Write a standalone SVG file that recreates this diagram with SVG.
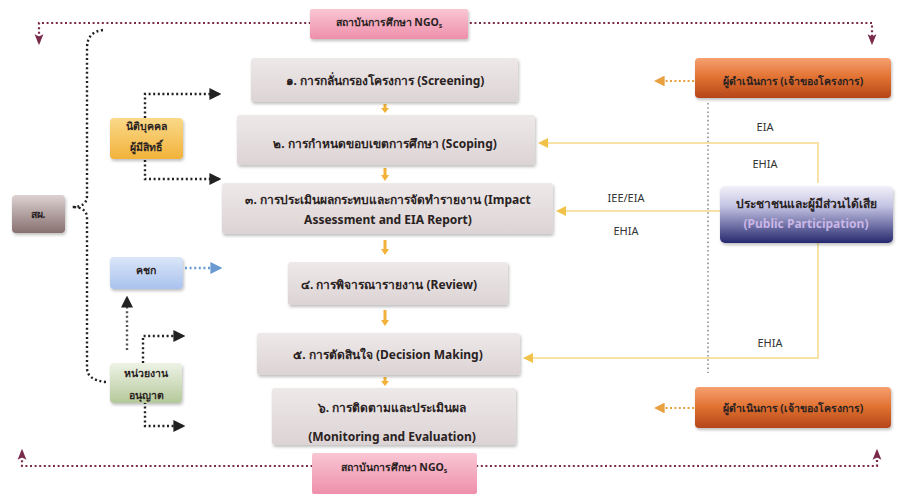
<svg xmlns="http://www.w3.org/2000/svg" width="910" height="494" viewBox="0 0 910 494">
<defs>
<linearGradient id="gGrey" x1="0" y1="0" x2="0" y2="1"><stop offset="0" stop-color="#eee9e9"/><stop offset="1" stop-color="#dcd3d4"/></linearGradient>
<linearGradient id="gPink" x1="0" y1="0" x2="0" y2="1"><stop offset="0" stop-color="#f9c6d4"/><stop offset="1" stop-color="#ee8fab"/></linearGradient>
<linearGradient id="gOrange" x1="0" y1="0" x2="0" y2="1"><stop offset="0" stop-color="#f6a070"/><stop offset="0.5" stop-color="#e0702f"/><stop offset="1" stop-color="#b4461a"/></linearGradient>
<linearGradient id="gYellow" x1="0" y1="0" x2="0" y2="1"><stop offset="0" stop-color="#fad98a"/><stop offset="1" stop-color="#f2b23a"/></linearGradient>
<linearGradient id="gBlueL" x1="0" y1="0" x2="0" y2="1"><stop offset="0" stop-color="#dbe6f8"/><stop offset="1" stop-color="#a9c2ee"/></linearGradient>
<linearGradient id="gGreen" x1="0" y1="0" x2="0" y2="1"><stop offset="0" stop-color="#eef3e6"/><stop offset="1" stop-color="#b4c89a"/></linearGradient>
<linearGradient id="gDark" x1="0" y1="0" x2="0" y2="1"><stop offset="0" stop-color="#ddd2d2"/><stop offset="1" stop-color="#86706f"/></linearGradient>
<linearGradient id="gNavy" x1="0" y1="0" x2="0" y2="1"><stop offset="0" stop-color="#f2f0f8"/><stop offset="0.35" stop-color="#c4c4e4"/><stop offset="1" stop-color="#26286e"/></linearGradient>
<filter id="sh" x="-10%" y="-20%" width="120%" height="150%"><feDropShadow dx="1" dy="2" stdDeviation="1.5" flood-color="#000" flood-opacity="0.25"/></filter>
<marker id="aBlk" viewBox="0 0 10 10" refX="8" refY="5" markerWidth="5" markerHeight="5" orient="auto"><path d="M0,0 L10,5 L0,10 z" fill="#222"/></marker>
<marker id="aMar" viewBox="0 0 10 10" refX="8" refY="5" markerWidth="5" markerHeight="5" orient="auto-start-reverse"><path d="M0,1 L10,5 L0,9 L2,5 z" fill="#7a2a4a"/></marker>
<marker id="aYel" viewBox="0 0 10 10" refX="8" refY="5" markerWidth="5" markerHeight="5" orient="auto"><path d="M0,0 L10,5 L0,10 z" fill="#f0c24a"/></marker>
<marker id="aBlu" viewBox="0 0 10 10" refX="8" refY="5" markerWidth="5" markerHeight="5" orient="auto"><path d="M0,0 L10,5 L0,10 z" fill="#6a9ad0"/></marker>
<marker id="aOr" viewBox="0 0 10 10" refX="8" refY="5" markerWidth="6" markerHeight="6" orient="auto"><path d="M0,0 L10,5 L0,10 z" fill="#e8a040"/></marker>
</defs>
<style>
.t{font-family:"Noto Sans","Liberation Sans","DejaVu Sans",sans-serif;font-weight:bold;font-size:12px;fill:#2a2222;text-anchor:middle;dominant-baseline:central}
.s{font-size:10.5px}
.lb{font-family:"Noto Sans","Liberation Sans",sans-serif;font-size:11px;fill:#333;text-anchor:middle;dominant-baseline:central}
.bx{fill:url(#gGrey);filter:url(#sh)}
.dk{fill:none;stroke:#222;stroke-width:2.4;stroke-dasharray:2 2.6}
.mr{fill:none;stroke:#7a2a4a;stroke-width:2.2;stroke-dasharray:2 2.6}
.yl{fill:none;stroke:#f6e2a6;stroke-width:2}
.gv{fill:none;stroke:#8a8a8a;stroke-width:1.5;stroke-dasharray:1.6 2.6}
.dn{fill:#f2b23a}
.od{fill:none;stroke:#e8a040;stroke-width:1.8;stroke-dasharray:2 2.4}
</style>
<rect width="910" height="494" fill="#ffffff"/>

<g id="connectors">
<path class="mr" d="M39,43 L39,23 L872,23 L872,43" marker-start="url(#aMar)" marker-end="url(#aMar)"/>
<path class="mr" d="M22,451 L22,466 L877,466 L877,451" marker-start="url(#aMar)" marker-end="url(#aMar)"/>
<path class="dk" d="M103,30 Q87,32 87,48 L87,196 Q87,207 72,207 Q87,207 87,218 L87,368 Q87,380 106,382"/>
<path class="dk" d="M145,118 L145,94 L219,94" marker-end="url(#aBlk)"/>
<path class="dk" d="M145,160 L145,179 L219,179" marker-end="url(#aBlk)"/>
<path class="dk" d="M185,268 L220,268" style="stroke:#6a9ad0" marker-end="url(#aBlu)"/>
<path class="dk" d="M127,350 L127,298" style="stroke:#555" marker-end="url(#aBlk)"/>
<path class="dk" d="M143,363 L143,336 L183,336" marker-end="url(#aBlk)"/>
<path class="dk" d="M145,402 L145,426 L183,426" marker-end="url(#aBlk)"/>
<path class="gv" d="M708,103 L708,373"/>
<path class="od" d="M694,81 L656,81" marker-end="url(#aOr)"/>
<path class="od" d="M694,408 L656,408" marker-end="url(#aOr)"/>
<path class="yl" d="M818,183 L818,143 L540,143" marker-end="url(#aYel)"/>
<path class="yl" d="M720,211 L558,211" marker-end="url(#aYel)"/>
<path class="yl" d="M818,243 L818,358 L525,358" marker-end="url(#aYel)"/>
<path class="dn" d="M383.5,104 h3 v4 h2.5 l-4,5 l-4,-5 h2.5 z"/>
<path class="dn" d="M383.5,168 h3 v7 h2.5 l-4,6 l-4,-6 h2.5 z"/>
<path class="dn" d="M383.5,240 h3 v9 h2.5 l-4,6 l-4,-6 h2.5 z"/>
<path class="dn" d="M383.5,310 h3 v10 h2.5 l-4,6 l-4,-6 h2.5 z"/>
<path class="dn" d="M383.5,377 h3 v4 h2.5 l-4,5 l-4,-5 h2.5 z"/>
</g>

<g id="labels">
<text class="lb" x="765" y="126">EIA</text>
<text class="lb" x="765" y="163">EHIA</text>
<text class="lb" x="626" y="197">IEE/EIA</text>
<text class="lb" x="626" y="230">EHIA</text>
<text class="lb" x="770" y="342">EHIA</text>
</g>

<g id="ngo-top">
<rect x="310" y="9" width="158" height="30" rx="2" fill="url(#gPink)" filter="url(#sh)"/>
<text class="t s" x="389" y="22">สถาบันการศึกษา NGO<tspan font-size="7" dy="3">s</tspan></text>
</g>
<g id="ngo-bottom">
<rect x="312" y="453" width="165" height="41" rx="2" fill="url(#gPink)"/>
<text class="t s" x="394" y="467">สถาบันการศึกษา NGO<tspan font-size="7" dy="3">s</tspan></text>
</g>

<g id="step1"><rect class="bx" x="251" y="58" width="267" height="44" rx="3"/><text class="t" x="385" y="80">๑. การกลั่นกรองโครงการ (Screening)</text></g>
<g id="step2"><rect class="bx" x="237" y="115" width="298" height="50" rx="3"/><text class="t" x="385" y="143">๒. การกำหนดขอบเขตการศึกษา (Scoping)</text></g>
<g id="step3"><rect class="bx" x="222" y="183" width="331" height="51" rx="3"/><text class="t" x="388" y="199">๓. การประเมินผลกระทบและการจัดทำรายงาน  (Impact</text><text class="t" x="388" y="219">Assessment and EIA Report)</text></g>
<g id="step4"><rect class="bx" x="288" y="262" width="220" height="43" rx="3"/><text class="t" x="389" y="284">๔. การพิจารณารายงาน (Review)</text></g>
<g id="step5"><rect class="bx" x="257" y="333" width="263" height="42" rx="3"/><text class="t" x="388" y="354">๕. การตัดสินใจ (Decision Making)</text></g>
<g id="step6"><rect class="bx" x="272" y="388" width="244" height="57" rx="3"/><text class="t" x="392" y="407">๖. การติดตามและประเมินผล</text><text class="t" x="392" y="436">(Monitoring and Evaluation)</text></g>

<g id="owner-top"><rect x="695" y="58" width="196" height="40" rx="4" fill="url(#gOrange)" filter="url(#sh)"/><text class="t s" x="793" y="81">ผู้ดำเนินการ (เจ้าของโครงการ)</text></g>
<g id="owner-bottom"><rect x="695" y="387" width="196" height="41" rx="4" fill="url(#gOrange)" filter="url(#sh)"/><text class="t s" x="793" y="408">ผู้ดำเนินการ (เจ้าของโครงการ)</text></g>

<g id="public"><rect x="720" y="186" width="173" height="57" rx="5" fill="url(#gNavy)" filter="url(#sh)"/><text class="t" x="806" y="203">ประชาชนและผู้มีส่วนได้เสีย</text><text class="t" x="806" y="223" style="fill:#c9b6e6">(Public Participation)</text></g>

<g id="onep"><rect x="12" y="195" width="53" height="38" rx="4" fill="url(#gDark)" filter="url(#sh)"/><text class="t s" x="38" y="214">สผ.</text></g>
<g id="juristic"><rect x="110" y="118" width="73" height="41" rx="4" fill="url(#gYellow)" filter="url(#sh)"/><text class="t s" x="146" y="126">นิติบุคคล</text><text class="t s" x="146" y="147">ผู้มีสิทธิ์</text></g>
<g id="kchk"><rect x="110" y="257" width="73" height="32" rx="4" fill="url(#gBlueL)" filter="url(#sh)"/><text class="t s" x="146" y="270">คชก</text></g>
<g id="permit"><rect x="110" y="363" width="72" height="40" rx="4" fill="url(#gGreen)" filter="url(#sh)"/><text class="t s" x="146" y="373">หน่วยงาน</text><text class="t s" x="146" y="395">อนุญาต</text></g>
</svg>
